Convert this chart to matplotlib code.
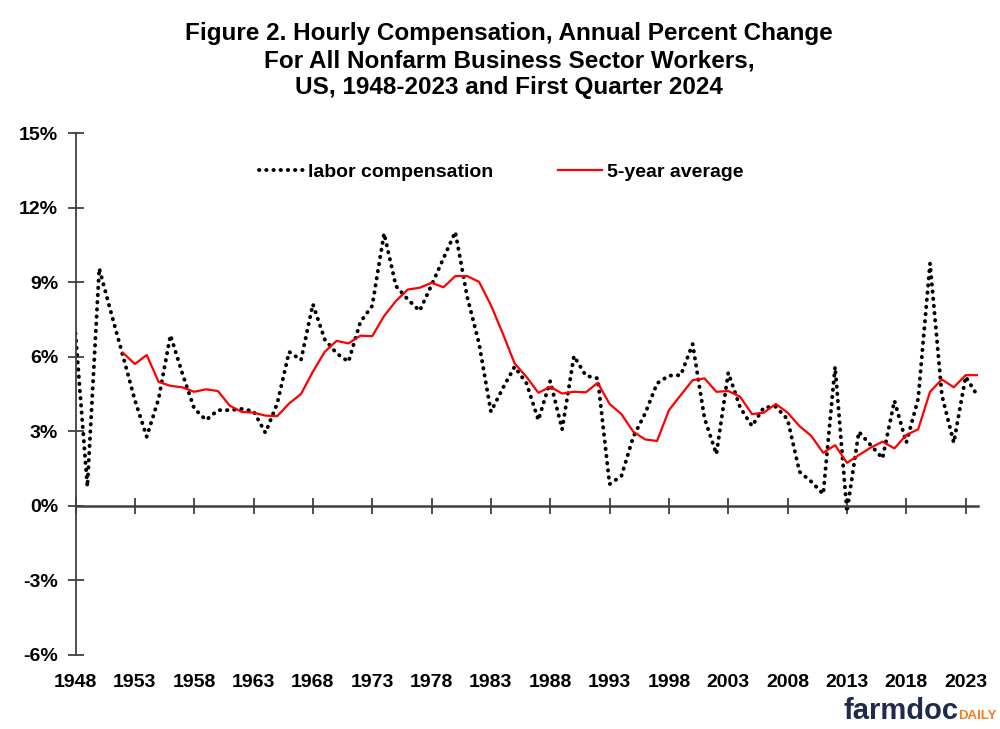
import numpy as np
import matplotlib
matplotlib.use('Agg')
import matplotlib.pyplot as plt

# 年次データ (1948-2023 + 2024Q1)
years = list(range(1948, 2025))
labor_comp = [
    6.94, 0.77,
    9.56, 7.77, 6.03, 4.26, 2.78, 4.30, 6.87, 5.33, 3.92, 3.45,
    3.85, 3.85, 3.90, 3.81, 2.94, 4.12, 6.20, 5.87, 8.12, 6.70,
    6.14, 5.80, 7.40, 8.05, 10.97, 8.85, 8.31, 7.85, 8.89, 9.96,
    11.03, 8.42, 6.54, 3.79, 4.73, 5.60, 4.93, 3.45, 5.02, 3.08,
    6.03, 5.24, 5.13, 0.87, 1.20, 2.78, 3.72, 4.93, 5.24, 5.26,
    6.51, 3.52, 2.08, 5.36, 3.96, 3.21, 3.96, 3.99, 3.48, 1.37,
    0.97, 0.47, 5.60, -0.24, 2.98, 2.44, 1.91, 4.23, 2.54, 4.30,
    9.76, 4.45, 2.54, 5.20, 4.43,
]
# 5年平均は1952から
avg_years = list(range(1952, 2025))
avg_5yr = [
    6.16, 5.71, 6.07, 4.99, 4.83, 4.77, 4.59, 4.69,
    4.62, 4.03, 3.78, 3.75, 3.63, 3.61, 4.12, 4.50, 5.40, 6.20,
    6.64, 6.54, 6.85, 6.83, 7.64, 8.25, 8.71, 8.78, 8.98, 8.80,
    9.25, 9.25, 9.02, 8.08, 6.94, 5.73, 5.19, 4.55, 4.79, 4.52,
    4.59, 4.57, 4.95, 4.10, 3.69, 2.98, 2.67, 2.61, 3.85, 4.46,
    5.06, 5.13, 4.59, 4.62, 4.39, 3.69, 3.75, 4.10, 3.75, 3.21,
    2.81, 2.13, 2.44, 1.73, 2.04, 2.34, 2.58, 2.31, 2.85, 3.08,
    4.59, 5.09, 4.77, 5.26, 5.26,
]
x_ticks = list(range(1948, 2024, 5))
y_ticks = [-6, -3, 0, 3, 6, 9, 12, 15]

plt.rcParams['font.family'] = ['Liberation Sans', 'DejaVu Sans']
plt.rcParams['font.weight'] = 'bold'
axis_color = '#404040'

fig = plt.figure(figsize=(10, 7.29), dpi=100)
ax = fig.add_axes([0.0755, 0.1019, 0.902, 0.7152])

ax.plot(years, labor_comp, color='black', linewidth=2.8,
        linestyle=(0, (0.1, 1.75)), dash_capstyle='round',
        label='labor compensation')
ax.plot(avg_years, avg_5yr, color='#ff0000', linewidth=1.6,
        label='5-year average')

ax.set_xlim(1948, 2024)
ax.set_ylim(-6, 15)

# 軸の見た目
for s in ['top', 'right']:
    ax.spines[s].set_visible(False)
ax.spines['left'].set_color(axis_color)
ax.spines['left'].set_linewidth(1.3)
ax.spines['bottom'].set_position(('data', 0))
ax.spines['bottom'].set_color(axis_color)
ax.spines['bottom'].set_linewidth(1.8)

ax.set_yticks(y_ticks)
ax.set_yticklabels([f'{v}%' for v in y_ticks])
ax.set_xticks(x_ticks)
ax.set_xticklabels([str(v) for v in x_ticks])
ax.tick_params(axis='y', direction='inout', length=11, width=1.3,
               color=axis_color, pad=7, labelsize=14)
ax.tick_params(axis='x', direction='inout', length=12, width=1.3,
               color=axis_color, pad=115, labelsize=14)

ax.legend(loc='center', bbox_to_anchor=(0.472, 0.926), ncol=2, frameon=False,
          fontsize=14, handlelength=2.3, handletextpad=0.25, columnspacing=3.3)

fig.text(0.509, 0.97, 'Figure 2. Hourly Compensation, Annual Percent Change\n'
         'For All Nonfarm Business Sector Workers,\n'
         'US, 1948-2023 and First Quarter 2024',
         ha='center', va='top', fontsize=17.5, fontweight='bold', linespacing=1.23)

# ロゴ
fig.text(0.958, 0.014, 'farmdoc', ha='right', va='baseline', fontsize=21,
         fontweight='bold', color='#1f2b4a')
fig.text(0.958, 0.014, 'DAILY', ha='left', va='baseline', fontsize=9.5,
         fontweight='bold', color='#f47b20')

plt.savefig('out.png', dpi=100)
plt.close()
